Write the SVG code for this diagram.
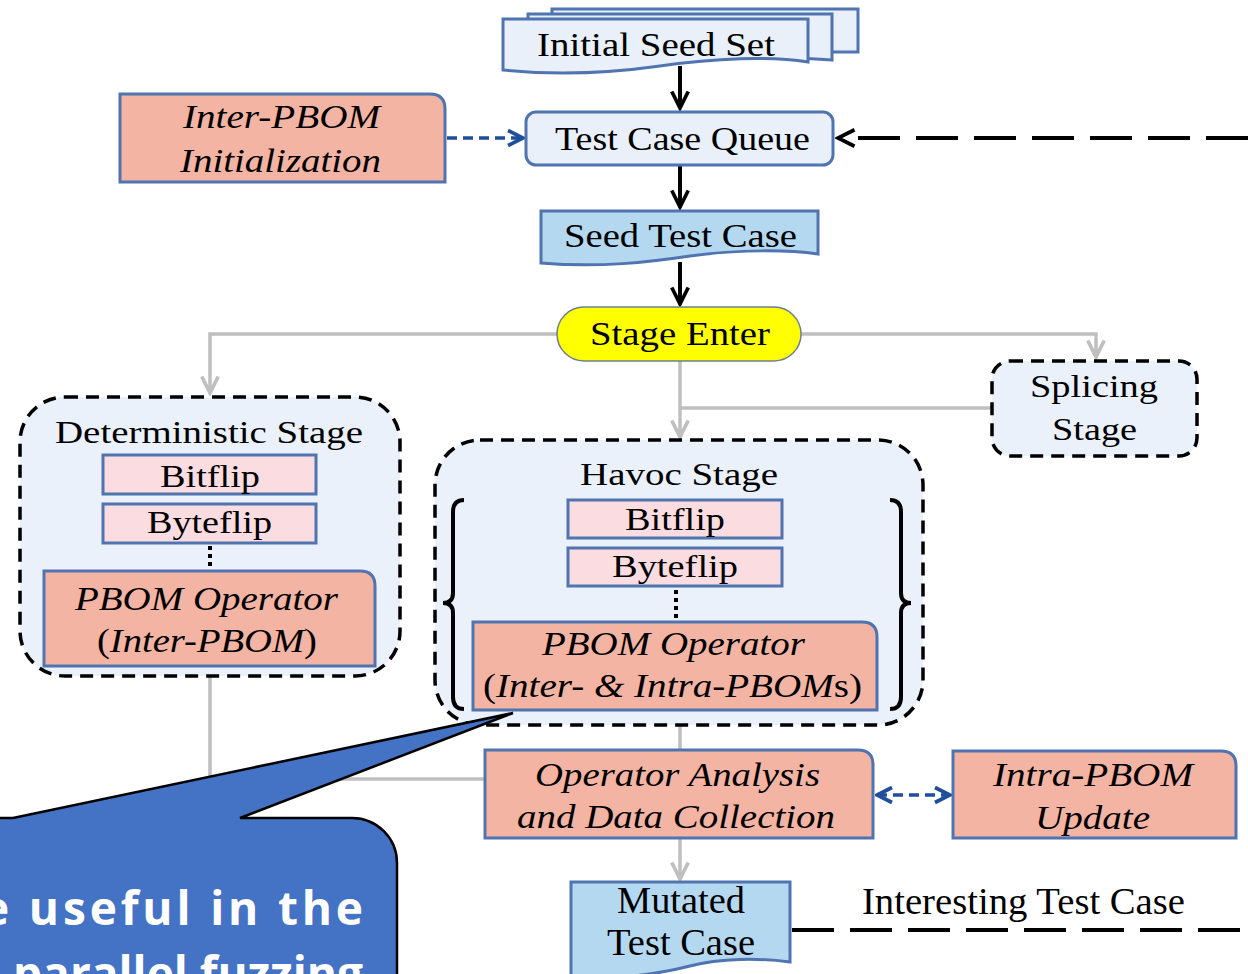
<svg xmlns="http://www.w3.org/2000/svg" width="1248" height="974" viewBox="0 0 1248 974">
<style>
.t{font-family:"Liberation Serif","Times New Roman",serif;fill:#000}
.i{font-style:italic}
.lb{fill:#e9f0fa;stroke:#4f74b0;stroke-width:3}
.sb{fill:#b5d8f1;stroke:#4f74b0;stroke-width:3}
.sal{fill:#f4b4a4;stroke:#4f74b0;stroke-width:3}
.pk{fill:#fbdde1;stroke:#4f74b0;stroke-width:3}
.dash{fill:#eaf1fb;stroke:#000;stroke-width:3.5;stroke-dasharray:13 8}
.g{fill:none;stroke:#bfbfbf;stroke-width:3.5}
.k{fill:none;stroke:#000;stroke-width:4}
.bd{fill:none;stroke:#1f4e9a;stroke-width:3.5;stroke-dasharray:10 6}
.kd{fill:none;stroke:#000;stroke-width:4;stroke-dasharray:42 16}
.dot{fill:none;stroke:#000;stroke-width:4;stroke-dasharray:4 4}
.co{font-family:"Open Sans","Liberation Sans",sans-serif;font-weight:700;fill:#fff;font-size:46px}
</style>
<defs>
<marker id="ak" viewBox="0 0 12 12" refX="10.5" refY="6" markerWidth="22" markerHeight="22" markerUnits="userSpaceOnUse" orient="auto"><path d="M1.5,1.5 L10.5,6 L1.5,10.5" fill="none" stroke="#000" stroke-width="2"/></marker>
<marker id="ag" viewBox="0 0 12 12" refX="10.5" refY="6" markerWidth="22" markerHeight="22" markerUnits="userSpaceOnUse" orient="auto"><path d="M1.5,1.5 L10.5,6 L1.5,10.5" fill="none" stroke="#bfbfbf" stroke-width="2"/></marker>
<marker id="ab" viewBox="0 0 12 12" refX="10.5" refY="6" markerWidth="20" markerHeight="20" markerUnits="userSpaceOnUse" orient="auto-start-reverse"><path d="M1.5,1.5 L10.5,6 L1.5,10.5" fill="none" stroke="#1f4e9a" stroke-width="2.2"/></marker>
</defs>
<rect width="1248" height="974" fill="#fff"/>

<g id="connectors">
<path class="g" d="M557,334 H210 V393" marker-end="url(#ag)"/>
<path class="g" d="M801,334 H1096 V357" marker-end="url(#ag)"/>
<path class="g" d="M680,361 V437" marker-end="url(#ag)"/>
<path class="g" d="M992,408 H680"/>
<path class="g" d="M210,676 V779 H485"/>
<path class="g" d="M680,725 V750"/>
<path class="g" d="M680,838 V879" marker-end="url(#ag)"/>
<path class="k" d="M680,66 V108" marker-end="url(#ak)"/>
<path class="k" d="M680,165 V207" marker-end="url(#ak)"/>
<path class="k" d="M680,262 V304" marker-end="url(#ak)"/>
<path class="kd" d="M1248,138 H838" marker-end="url(#ak)"/>
<path class="kd" d="M792,930 H1248"/>
<path class="bd" d="M447,138 H523" marker-end="url(#ab)"/>
<path class="bd" d="M877,795 H950" marker-start="url(#ab)" marker-end="url(#ab)"/>
</g>

<g id="initial-seed-set">
<rect class="lb" x="552" y="9" width="306" height="43"/>
<path class="lb" d="M528,14 H832 V60 C 790,56 700,58 650,64 L528,64 Z"/>
<path class="lb" d="M503,19 H808 V62 C 770,56 715,58 660,66 C 610,73 560,76 503,70 Z"/>
<text class="t" x="537" y="56" font-size="33" textLength="238" lengthAdjust="spacingAndGlyphs">Initial Seed Set</text>
</g>

<g id="inter-pbom-init">
<path class="sal" d="M120,94 H430 Q445,94 445,109 V182 H120 Z"/>
<text class="t i" x="183" y="128" font-size="34" textLength="197" lengthAdjust="spacingAndGlyphs">Inter-PBOM</text>
<text class="t i" x="180" y="172" font-size="34" textLength="201" lengthAdjust="spacingAndGlyphs">Initialization</text>
</g>

<g id="test-case-queue">
<rect class="lb" x="526" y="112" width="307" height="53" rx="10"/>
<text class="t" x="555" y="150" font-size="33" textLength="255" lengthAdjust="spacingAndGlyphs">Test Case Queue</text>
</g>

<g id="seed-test-case">
<path class="sb" d="M541,211 H818 V254 C 790,250 740,249 690,256 C 650,262 600,268 541,263 Z"/>
<text class="t" x="564" y="247" font-size="33" textLength="233" lengthAdjust="spacingAndGlyphs">Seed Test Case</text>
</g>

<g id="stage-enter">
<rect x="557" y="307" width="244" height="54" rx="27" fill="#ffff00" stroke="#6f7f8f" stroke-width="1.5"/>
<text class="t" x="590" y="345" font-size="33" textLength="180" lengthAdjust="spacingAndGlyphs">Stage Enter</text>
</g>

<g id="deterministic-stage">
<rect class="dash" x="20" y="397" width="380" height="279" rx="45"/>
<text class="t" x="55" y="443" font-size="32" textLength="308" lengthAdjust="spacingAndGlyphs">Deterministic Stage</text>
<rect class="pk" x="103" y="455" width="213" height="39"/>
<text class="t" x="160" y="487" font-size="32" textLength="100" lengthAdjust="spacingAndGlyphs">Bitflip</text>
<rect class="pk" x="103" y="504" width="213" height="39"/>
<text class="t" x="147" y="533" font-size="32" textLength="125" lengthAdjust="spacingAndGlyphs">Byteflip</text>
<path class="dot" d="M210,546 V570"/>
<path class="sal" d="M44,571 H360 Q375,571 375,586 V666 H44 Z"/>
<text class="t i" x="75" y="610" font-size="33" textLength="263" lengthAdjust="spacingAndGlyphs">PBOM Operator</text>
<text class="t" x="97" y="652" font-size="33" textLength="220" lengthAdjust="spacingAndGlyphs">(<tspan class="i">Inter-PBOM</tspan>)</text>
</g>

<g id="havoc-stage">
<rect class="dash" x="435" y="440" width="488" height="285" rx="45"/>
<text class="t" x="580" y="485" font-size="32" textLength="198" lengthAdjust="spacingAndGlyphs">Havoc Stage</text>
<path class="k" d="M464,500 Q453,500 453,512 V593 Q453,603 443,603 Q453,603 453,613 V697 Q453,709 464,709"/>
<path class="k" d="M890,500 Q901,500 901,512 V593 Q901,603 911,603 Q901,603 901,613 V697 Q901,709 890,709"/>
<rect class="pk" x="568" y="500" width="214" height="38"/>
<text class="t" x="625" y="530" font-size="32" textLength="100" lengthAdjust="spacingAndGlyphs">Bitflip</text>
<rect class="pk" x="568" y="548" width="214" height="38"/>
<text class="t" x="612" y="577" font-size="32" textLength="126" lengthAdjust="spacingAndGlyphs">Byteflip</text>
<path class="dot" d="M676,590 V618"/>
<path class="sal" d="M473,622 H862 Q877,622 877,637 V710 H473 Z"/>
<text class="t i" x="542" y="655" font-size="33" textLength="263" lengthAdjust="spacingAndGlyphs">PBOM Operator</text>
<text class="t" x="483" y="697" font-size="33" textLength="379" lengthAdjust="spacingAndGlyphs">(<tspan class="i">Inter- &amp; Intra-PBOM</tspan>s)</text>
</g>

<g id="splicing-stage">
<rect class="dash" x="992" y="361" width="205" height="95" rx="18"/>
<text class="t" x="1030" y="397" font-size="31" textLength="128" lengthAdjust="spacingAndGlyphs">Splicing</text>
<text class="t" x="1052" y="440" font-size="31" textLength="85" lengthAdjust="spacingAndGlyphs">Stage</text>
</g>

<g id="operator-analysis">
<path class="sal" d="M485,750 H858 Q873,750 873,765 V838 H485 Z"/>
<text class="t i" x="535" y="786" font-size="34" textLength="285" lengthAdjust="spacingAndGlyphs">Operator Analysis</text>
<text class="t i" x="517" y="828" font-size="34" textLength="318" lengthAdjust="spacingAndGlyphs">and Data Collection</text>
</g>

<g id="intra-pbom-update">
<path class="sal" d="M953,751 H1221 Q1236,751 1236,766 V838 H953 Z"/>
<text class="t i" x="993" y="786" font-size="34" textLength="200" lengthAdjust="spacingAndGlyphs">Intra-PBOM</text>
<text class="t i" x="1035" y="829" font-size="34" textLength="115" lengthAdjust="spacingAndGlyphs">Update</text>
</g>

<g id="mutated-test-case">
<path class="sb" d="M571,882 H790 V962 C 760,958 720,958 690,966 C 650,976 610,980 571,976 Z"/>
<text class="t" x="617" y="913" font-size="37" textLength="128" lengthAdjust="spacingAndGlyphs">Mutated</text>
<text class="t" x="607" y="955" font-size="37" textLength="148" lengthAdjust="spacingAndGlyphs">Test Case</text>
</g>

<g id="interesting-label">
<text class="t" x="862" y="914" font-size="37" textLength="323" lengthAdjust="spacingAndGlyphs">Interesting Test Case</text>
</g>

<g id="callout">
<path d="M-20,818 L13,818 L513,713 L240,818 L352,818 A45,45 0 0 1 397,863 L397,1000 L-20,1000 Z" fill="#4472c4" stroke="#000" stroke-width="2.5"/>
<text class="co" x="-18" y="925" textLength="381" lengthAdjust="spacing">e useful in the</text>
<text class="co" x="13" y="990" textLength="350" lengthAdjust="spacing">parallel fuzzing</text>
</g>
</svg>
